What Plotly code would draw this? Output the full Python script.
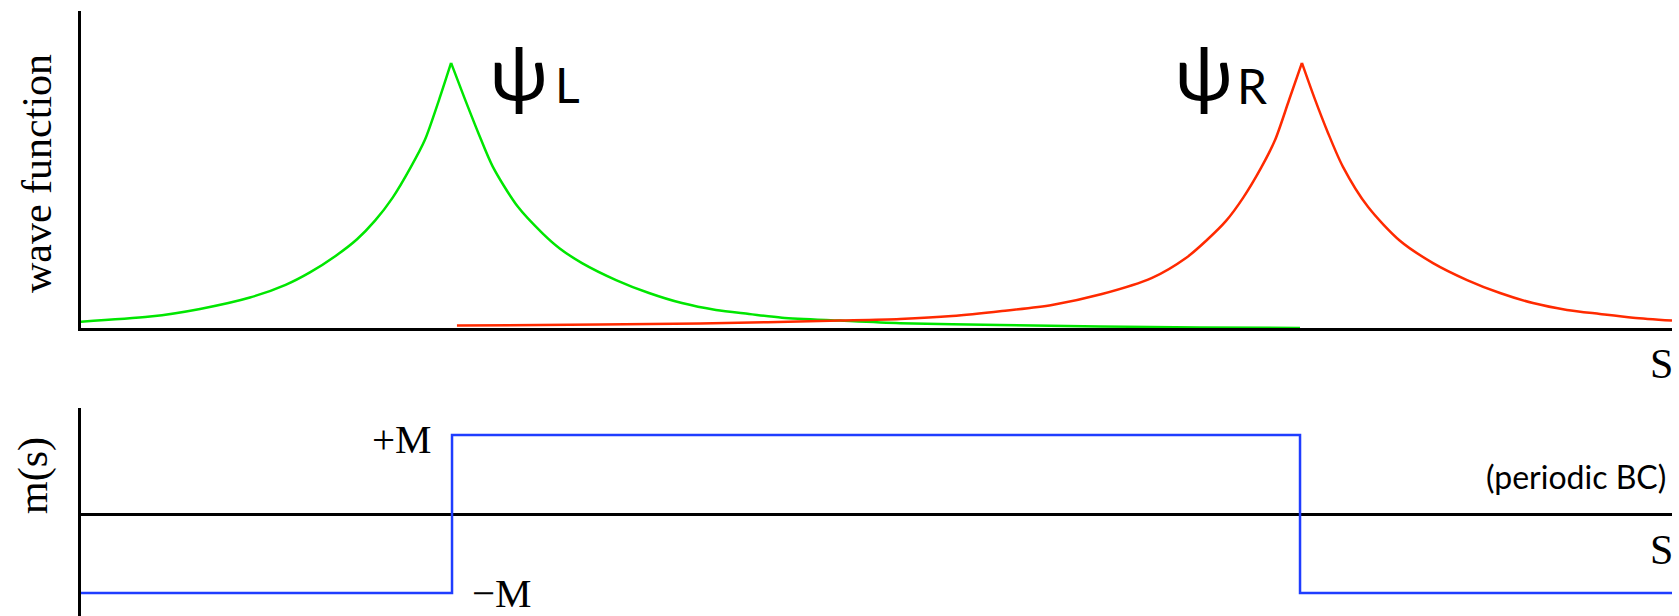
import plotly.graph_objects as go

# Position along the chain (arbitrary units, axis spans 0..100)
s_left = [0.0, 4.34, 7.48, 10.62, 12.86, 14.39, 16.00, 17.35, 18.48, 19.59, 20.72, 21.61,
          22.50, 23.26, 24.07, 24.98, 25.88, 27.45, 29.01, 30.09, 31.49, 33.63, 35.70,
          37.77, 39.91, 41.99, 44.06, 47.71, 51.48, 57.76, 64.05, 70.33, 76.62]
psi_left = [0.024, 0.043, 0.072, 0.115, 0.163, 0.210, 0.272, 0.335, 0.405, 0.492, 0.606,
            0.709, 0.860, 1.000, 0.873, 0.735, 0.609, 0.458, 0.357, 0.300, 0.245, 0.181,
            0.132, 0.094, 0.068, 0.053, 0.039, 0.028, 0.018, 0.011, 0.006, 0.002, 0.000]

s_right = [23.63, 32.62, 38.91, 47.71, 51.48, 54.75, 57.89, 61.03, 64.17, 67.32, 69.45, 70.77,
           71.97, 73.04, 74.17, 75.05, 75.93, 76.74, 77.50, 78.38, 79.32, 80.89, 82.90,
           84.98, 87.12, 89.19, 91.26, 93.40, 95.47, 97.55, 100.0]
psi_right = [0.009, 0.013, 0.017, 0.028, 0.034, 0.045, 0.064, 0.087, 0.128, 0.189, 0.264, 0.332,
             0.404, 0.491, 0.604, 0.709, 0.860, 1.000, 0.872, 0.736, 0.608, 0.457, 0.329,
             0.245, 0.181, 0.132, 0.094, 0.068, 0.053, 0.039, 0.028]

# Domain-wall mass profile m(s): -M, +M between the walls, -M again
s_mass = [0.0, 23.32, 76.62, 100.0]
m_mass = [-1, 1, -1, -1]

W, H = 1679, 616
L, R = 81, 1672


def px(x):
    return (x - L) / (R - L)


def py(y):
    return 1 - y / H


SERIF = "Liberation Serif"
SANS = "Lato"

fig = go.Figure()


def add_cusp_curve(s, v, color):
    # each bound state has a cusp at the wall: smooth both flanks separately
    k = v.index(max(v))
    for xs, ys in ((s[:k + 1], v[:k + 1]), (s[k:], v[k:])):
        fig.add_trace(go.Scatter(x=xs, y=ys, mode="lines",
                                 line=dict(color=color, width=2.5, shape="spline",
                                           smoothing=0.8),
                                 xaxis="x", yaxis="y", showlegend=False,
                                 hoverinfo="skip"))


add_cusp_curve(s_left, psi_left, "#00e600")
add_cusp_curve(s_right, psi_right, "#ff2a00")

fig.add_trace(go.Scatter(x=s_mass, y=m_mass, mode="lines", line_shape="hv",
                         line=dict(color="#1f3dff", width=2.5),
                         xaxis="x2", yaxis="y2", showlegend=False))

ax_common = dict(showgrid=False, ticks="", showticklabels=False, fixedrange=True)

fig.update_layout(
    width=W, height=H,
    margin=dict(l=L, r=W - R, t=0, b=0),
    paper_bgcolor="white", plot_bgcolor="white",
    xaxis=dict(domain=[0, 1], range=[0, 100], anchor="y", showline=True,
               linecolor="black", linewidth=2.5, zeroline=False, **ax_common),
    yaxis=dict(domain=[py(328), py(10.7)], range=[0, 1.197], anchor="x",
               showline=True, linecolor="black", linewidth=2.5, zeroline=False,
               **ax_common),
    xaxis2=dict(domain=[0, 1], range=[0, 100], anchor="y2", showline=False,
                zeroline=False, **ax_common),
    yaxis2=dict(domain=[0, py(408)], range=[-1.291, 1.342], anchor="x2",
                showline=True, linecolor="black", linewidth=2.5,
                zeroline=True, zerolinecolor="black", zerolinewidth=2.5,
                **ax_common),
)


def label(text, x, y, size, family, angle=0, xanchor="center"):
    fig.add_annotation(text=text, x=px(x), y=py(y), xref="paper", yref="paper",
                       showarrow=False, textangle=angle, xanchor=xanchor,
                       yanchor="middle", borderpad=0,
                       font=dict(family=family, size=size, color="black"))


label("wave function", 37, 174, 42, SERIF, angle=-90)
label("m(s)", 33, 476, 42, SERIF, angle=-90)
label("+M", 402, 439, 41, SERIF)
label("\u2212M", 502, 593, 41, SERIF)
label("S", 1674, 364, 42, SERIF, xanchor="right")
label("S", 1674, 550, 42, SERIF, xanchor="right")
label("(periodic BC)", 1667, 476, 32, SANS, xanchor="right")

label("\u03c8", 519, 71, 76, SANS)
label("L", 567, 84, 48, SANS)
label("\u03c8", 1204, 71, 76, SANS)
label("R", 1252, 85, 48, SANS)

fig.write_html("out.html")
